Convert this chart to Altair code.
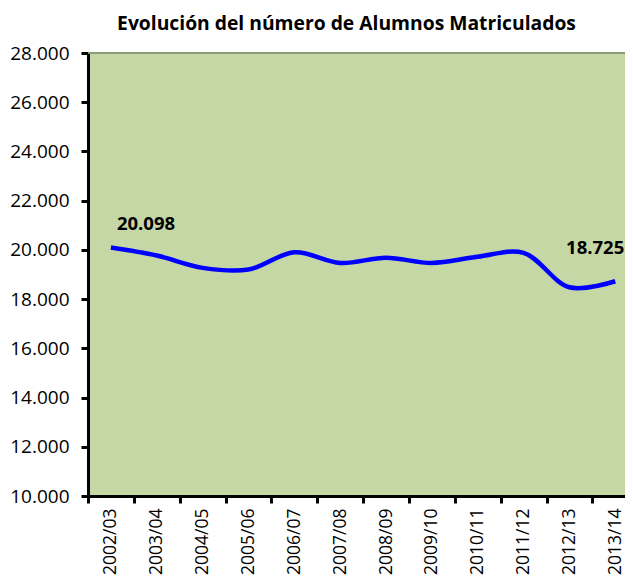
import altair as alt
import pandas as pd

cursos = ["2002/03", "2003/04", "2004/05", "2005/06", "2006/07", "2007/08",
          "2008/09", "2009/10", "2010/11", "2011/12", "2012/13", "2013/14"]
alumnos = [20098, 19770, 19270, 19200, 19900, 19470, 19680, 19470, 19720, 19880, 18480, 18725]
y_ticks = [10000, 12000, 14000, 16000, 18000, 20000, 22000, 24000, 26000, 28000]
etiqueta_ini = "20.098"
etiqueta_fin = "18.725"
titulo = "Evolución del número de Alumnos Matriculados"

FONT = "Open Sans"
N = len(cursos)
idx = list(range(N))
bordes = [i - 0.5 for i in range(N)]  # category boundaries for ticks

W = 537
STEP = 45.85

df = pd.DataFrame({"idx": idx, "curso": cursos, "alumnos": alumnos})
df_ini = pd.DataFrame({"idx": [idx[0]], "alumnos": [alumnos[0]], "label": [etiqueta_ini]})
df_fin = pd.DataFrame({"idx": [idx[-1]], "alumnos": [alumnos[-1]], "label": [etiqueta_fin]})

x_scale = alt.Scale(domain=[-0.5, -0.5 + W / STEP], nice=False, zero=False)
label_expr = "[" + ",".join("'" + c + "'" for c in cursos) + "][datum.value]"

x_labels = alt.X(
    "idx:Q", scale=x_scale,
    axis=alt.Axis(
        title=None, orient="bottom", values=idx, labelExpr=label_expr, grid=False,
        labelAngle=270, labelAlign="right", labelBaseline="middle",
        labelFontSize=17.5, labelFont=FONT, labelColor="black", labelPadding=12,
        ticks=False, tickSize=0, labelOverlap=False, labelFlush=False,
        domainColor="black", domainWidth=3,
    ),
)
x_ticks = alt.X(
    "idx:Q", scale=x_scale,
    axis=alt.Axis(
        title=None, orient="bottom", values=bordes, labels=False, grid=False,
        domainColor="black", domainWidth=3, tickColor="black", tickWidth=3, tickSize=7,
    ),
)
y_enc = alt.Y(
    "alumnos:Q",
    scale=alt.Scale(domain=[10000, 28000], nice=False, zero=False),
    axis=alt.Axis(
        title=None, values=y_ticks, grid=False,
        labelExpr="replace(format(datum.value, ','), ',', '.')",
        labelFontSize=19, labelFont=FONT, labelColor="black", labelPadding=12,
        domainColor="black", domainWidth=3, tickColor="black", tickWidth=3, tickSize=7,
    ),
)

top_rule = alt.Chart(df).mark_rule(color="#8a9a72", strokeWidth=1).encode(
    x=alt.value(0), x2=alt.value(W), y=alt.value(0)
)

tick_layer = alt.Chart(df).mark_line(opacity=0).encode(x=x_ticks, y=y_enc)

line = alt.Chart(df).mark_line(
    color="#0000FF", strokeWidth=4.5, interpolate="catmull-rom"
).encode(x=x_labels, y=y_enc)

x_plain = alt.X("idx:Q", scale=x_scale, axis=None)

txt_ini = alt.Chart(df_ini).mark_text(
    align="left", baseline="middle", dx=6, dy=-23, fontSize=18.5, fontWeight="bold", font=FONT, color="black"
).encode(x=x_plain, y=y_enc, text="label:N")

txt_fin = alt.Chart(df_fin).mark_text(
    align="right", baseline="middle", dx=9, dy=-33, fontSize=18.5, fontWeight="bold", font=FONT, color="black"
).encode(x=x_plain, y=y_enc, text="label:N")

chart = alt.layer(top_rule, tick_layer, line, txt_ini, txt_fin).resolve_axis(x="independent").properties(
    width=W,
    height=443,
    autosize=alt.AutoSizeParams(type="none"),
    padding={"left": 80, "top": 45, "right": 0, "bottom": 79},
    title=alt.TitleParams(titulo, fontSize=19.3, fontWeight="bold", font=FONT, color="black",
                          anchor="middle", dx=-10, offset=10),
).configure_view(fill="#C6D7A6", stroke="transparent")

chart.save("out.html", embed_options={"renderer": "svg", "actions": False})
